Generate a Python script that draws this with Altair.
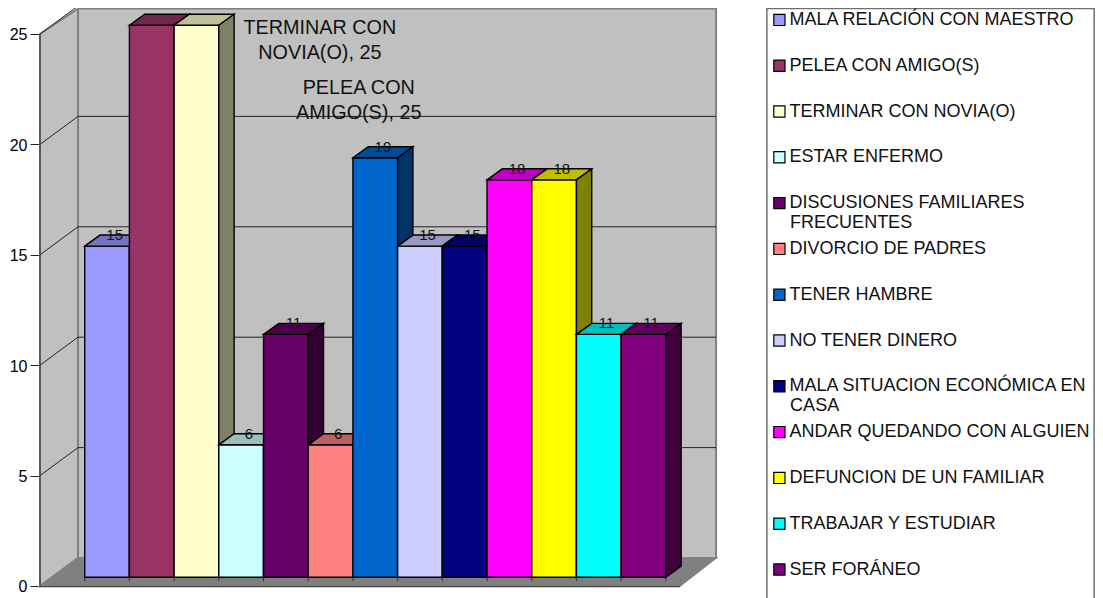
import altair as alt
import pandas as pd

categories = ["MALA RELACIÓN CON MAESTRO", "PELEA CON AMIGO(S)", "TERMINAR CON NOVIA(O)", "ESTAR ENFERMO",
              "DISCUSIONES FAMILIARES FRECUENTES", "DIVORCIO DE PADRES", "TENER HAMBRE", "NO TENER DINERO",
              "MALA SITUACION ECONÓMICA EN CASA", "ANDAR QUEDANDO CON ALGUIEN", "DEFUNCION DE UN FAMILIAR",
              "TRABAJAR Y ESTUDIAR", "SER FORÁNEO"]
values = [15, 25, 25, 6, 11, 6, 19, 15, 15, 18, 18, 11, 11]
palette = ["#9999FF", "#993366", "#FFFFCC", "#CCFFFF", "#660066", "#FF8080", "#0066CC", "#CCCCFF",
           "#000080", "#FF00FF", "#FFFF00", "#00FFFF", "#800080"]
ticks = [0, 5, 10, 15, 20, 25]
callouts = ["TERMINAR CON\nNOVIA(O), 25", "PELEA CON\nAMIGO(S), 25"]
callout_x = [6.26, 7.13]
callout_y = [25.27, 22.55]
wrapped = {"DISCUSIONES FAMILIARES FRECUENTES": ("DISCUSIONES FAMILIARES", "FRECUENTES"),
           "MALA SITUACION ECONÓMICA EN CASA": ("MALA SITUACION ECONÓMICA EN", "CASA")}
wrapped_x = [16.78, 16.78]
wrapped_y = [16.44, 8.16]

FONT = "Liberation Sans"
X_DOMAIN = [0, 23.6]
Y_DOMAIN = [-0.5435, 26.1775]
WALL_DX, WALL_DY = 0.85, 1.268
WALL_RIGHT, WALL_TOP = 15.123, 26.15
FLOOR_RIGHT = 14.318
BASE = 0.394
BAR_DX, BAR_DY = 0.342, 0.5


def shade(color, k):
    r, g, b = (int(color[i:i + 2], 16) for i in (1, 3, 5))
    return "#%02X%02X%02X" % (round(r * k), round(g * k), round(b * k))


faces = []
for i, (v, c) in enumerate(zip(values, palette)):
    x0, x1 = i + 1, i + 2
    t = v + BASE
    f = [("a", c, [(x0, BASE, t), (x1, BASE, t)]),
         ("b", shade(c, 0.75), [(x0, t, t), (x0 + BAR_DX, t, t + BAR_DY), (x1, t, t + BAR_DY), (x1 + BAR_DX, t + BAR_DY, t + BAR_DY)]),
         ("c", shade(c, 0.5), [(x1, BASE, t), (x1 + BAR_DX, BASE + BAR_DY, t + BAR_DY)])]
    for name, col, pts in f:
        for px, lo, hi in pts:
            faces.append({"face": f"{i:02d}{name}", "col": col, "x": px, "y": lo, "y2": hi})
faces = pd.DataFrame(faces)

AXIS = alt.Axis(values=ticks, domain=False, grid=False, tickSize=10, tickColor="#222222", title=None,
                labelFont=FONT, labelFontSize=16, labelColor="black", labelPadding=3, labelOffset=1)
X = lambda f="x": alt.X(f"{f}:Q", scale=alt.Scale(domain=X_DOMAIN, nice=False, zero=False), axis=None)
Y = lambda f="y": alt.Y(f"{f}:Q", scale=alt.Scale(domain=Y_DOMAIN, nice=False, zero=False), stack=None, axis=AXIS)

# walls and floor
back = pd.DataFrame([{"x": WALL_DX, "x2": WALL_RIGHT, "y": WALL_DY, "y2": WALL_TOP}])
back_l = alt.Chart(back).mark_rect(fill="#C0C0C0", stroke="#808080", strokeWidth=2).encode(
    x=X(), x2="x2:Q", y=Y(), y2="y2:Q")

side = pd.DataFrame([{"x": 0, "y": 0, "y2": 25}, {"x": WALL_DX, "y": WALL_DY, "y2": WALL_TOP}])
side_l = alt.Chart(side).mark_area(fill="#C0C0C0", stroke="#808080", strokeWidth=2).encode(
    x=X(), y=Y(), y2="y2:Q")

floor = pd.DataFrame([{"x": 0, "y": 0, "y2": 0}, {"x": WALL_DX, "y": 0, "y2": WALL_DY},
                      {"x": FLOOR_RIGHT, "y": 0, "y2": WALL_DY}, {"x": WALL_RIGHT, "y": WALL_DY, "y2": WALL_DY}])
floor_l = alt.Chart(floor).mark_area(fill="#808080", stroke="#808080", strokeWidth=1.5).encode(
    x=X(), y=Y(), y2="y2:Q")

grid_rows = []
for t in ticks[1:-1]:
    grid_rows.append({"x": 0, "x2": WALL_DX, "y": t, "y2": t + WALL_DY})
    grid_rows.append({"x": WALL_DX, "x2": WALL_RIGHT, "y": t + WALL_DY, "y2": t + WALL_DY})
grid_rows.append({"x": 0, "x2": WALL_DX, "y": 25, "y2": 25 + WALL_DY})
grid_l = alt.Chart(pd.DataFrame(grid_rows)).mark_rule(color="#222222", strokeWidth=1).encode(
    x=X(), x2="x2:Q", y=Y(), y2="y2:Q")

edge_l = alt.Chart(pd.DataFrame([{"x": 0, "x2": 0, "y": 0, "y2": 25},
                                 {"x": 0, "x2": FLOOR_RIGHT, "y": -0.03, "y2": -0.03}])).mark_rule(
    color="#404040", strokeWidth=1.2).encode(x=X(), x2="x2:Q", y=Y(), y2="y2:Q")

marks = pd.DataFrame([{"x": i + 1, "y": BASE, "y2": BASE - 0.18} for i in range(14)])
marks_l = alt.Chart(marks).mark_rule(color="#333333", strokeWidth=1).encode(x=X(), y=Y(), y2="y2:Q")

# bars, drawn left to right so each covers the one before
bars_l = alt.Chart(faces).mark_area(stroke="black", strokeWidth=1.4, opacity=1, interpolate="linear").encode(
    x=X(), y=Y(), y2="y2:Q", detail="face:N", fill=alt.Fill("col:N", scale=None))

# value labels
labels = pd.DataFrame({"category": categories, "value": values, "i": range(13)})
labels["x"] = labels["i"] + 1.5 + BAR_DX / 2
labels["y"] = labels["value"] + BASE + BAR_DY
lab_l = alt.Chart(labels[~labels["i"].isin([1, 2])]).mark_text(font=FONT, fontSize=15, color="#111111", baseline="middle").encode(
    x=X(), y=Y(), text="value:Q")

call = pd.DataFrame({"x": callout_x, "y": callout_y, "t": callouts})
call_l = alt.Chart(call).mark_text(font=FONT, fontSize=19.8, color="#111111", baseline="middle", lineBreak="\n",
                                   lineHeight=24.5).encode(x=X(), y=Y(), text="t:N")

# legend frame, legend and the second lines of its two wrapped entries
frame = pd.DataFrame([{"x": 16.26, "x2": 23.58, "y": -1, "y2": WALL_TOP}])
frame_l = alt.Chart(frame).mark_rect(fill="white", stroke="#707070", strokeWidth=1.5).encode(
    x=X(), x2="x2:Q", y=Y(), y2="y2:Q")

cont = pd.DataFrame({"x": wrapped_x, "y": wrapped_y, "t": [v[1] for v in wrapped.values()]})
cont_l = alt.Chart(cont).mark_text(font=FONT, fontSize=18, color="#111111", baseline="middle", align="left").encode(
    x=X(), y=Y(), text="t:N")

expr = "datum.label"
for full, (first, _) in wrapped.items():
    expr = f"datum.label == '{full}' ? '{first}' : " + expr
legend = alt.Legend(title=None, orient="none", legendX=730.4, legendY=2.9, symbolType="square", symbolSize=125,
                    symbolStrokeColor="black", symbolStrokeWidth=1.2, symbolOpacity=1, labelFont=FONT,
                    labelFontSize=18, labelColor="#111111", rowPadding=27.8, labelLimit=400, labelOffset=1, padding=0,
                    labelExpr=expr)
key_l = alt.Chart(labels).mark_square(size=0, filled=True, opacity=1).encode(
    x=X(), y=Y(),
    color=alt.Color("category:N", scale=alt.Scale(domain=categories, range=palette), legend=legend))

chart = alt.layer(back_l, side_l, floor_l, grid_l, edge_l, marks_l, bars_l, lab_l, call_l, frame_l, cont_l, key_l).properties(
    width=1055, height=590, padding={"left": 32, "top": 0, "right": 0, "bottom": 0},
    autosize=alt.AutoSizeParams(type="none"), background="white"
).configure_view(stroke=None)

chart.save("out.html", embed_options={"renderer": "svg", "actions": False})
